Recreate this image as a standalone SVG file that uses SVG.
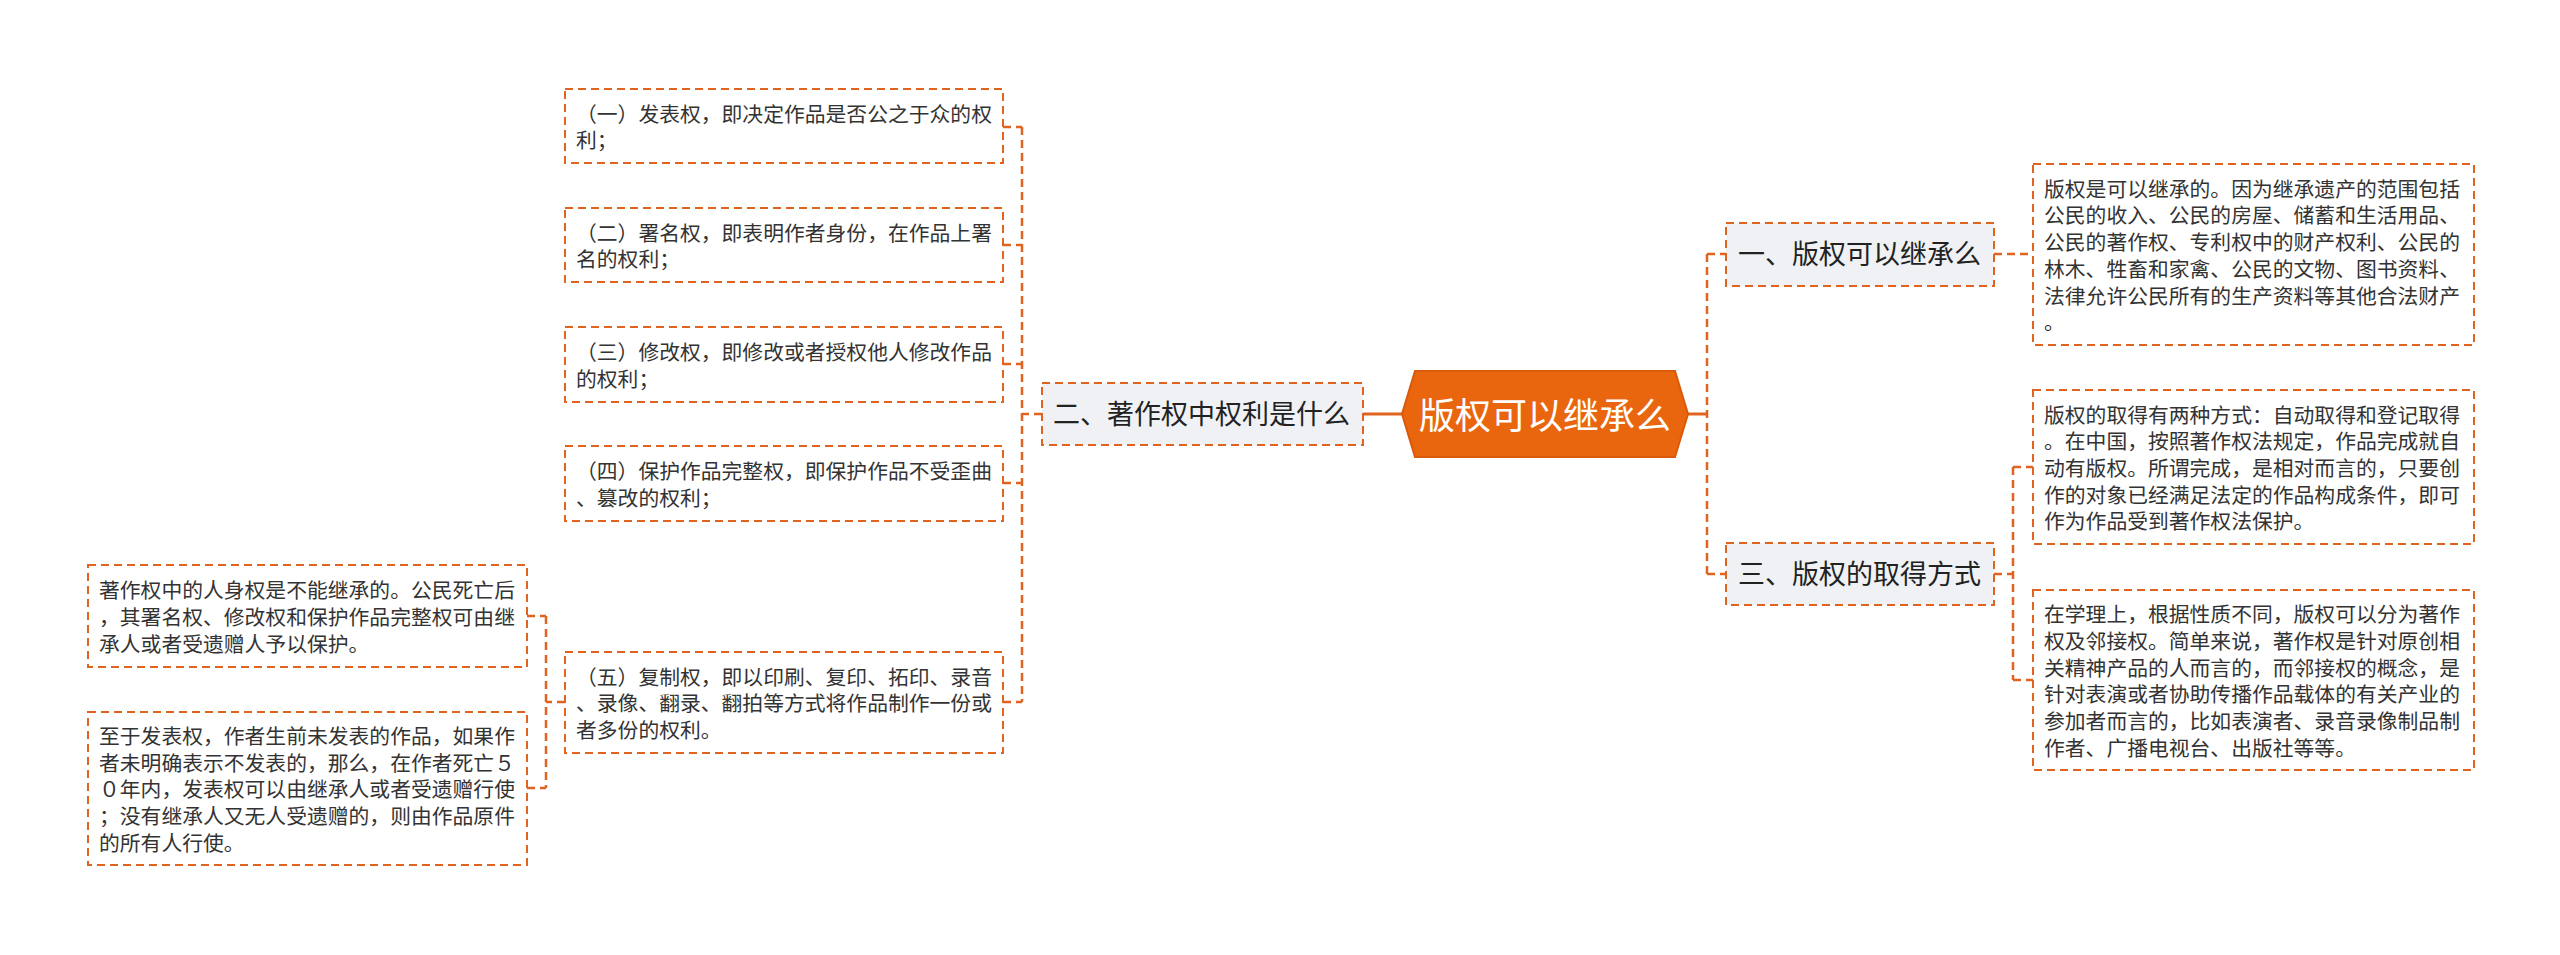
<svg xmlns="http://www.w3.org/2000/svg" width="2560" height="955" viewBox="0 0 2560 955">
<style>
.bg{fill:#ffffff}
.box{fill:#ffffff;stroke:#e0641f;stroke-width:2;stroke-dasharray:8 5}
.topic{fill:#eff1f4;stroke:#e0641f;stroke-width:2;stroke-dasharray:8 5}
.conn{fill:none;stroke:#e0641f;stroke-width:2.5;stroke-dasharray:8 5}
.solid{fill:none;stroke:#e0641f;stroke-width:3}
.t{font-family:"Noto Sans CJK SC","Noto Sans",sans-serif;font-size:20.8px;fill:#333333}
.tt{font-family:"Noto Sans CJK SC","Noto Sans",sans-serif;font-size:27px;fill:#222222}
.ct{font-family:"Noto Sans CJK SC","Noto Sans",sans-serif;font-size:36px;fill:#ffffff}
</style>
<rect class="bg" x="0" y="0" width="2560" height="955"/>
<g id="connectors">
<path class="solid" d="M1402 414 H1363"/>
<path class="conn" d="M1042 414 H1022 M1022 127 V702 M1003 127 H1022 M1003 245 H1022 M1003 364 H1022 M1003 483 H1022 M1003 702 H1022"/>
<path class="conn" d="M565 702 H546 M546 616 V788 M527 616 H546 M527 788 H546"/>
<path class="solid" d="M1688 414 H1707"/>
<path class="conn" d="M1707 254 V574 M1707 254 H1726 M1707 574 H1726"/>
<path class="conn" d="M1994 254 H2033"/>
<path class="conn" d="M1994 574 H2013 M2013 467 V680 M2013 467 H2033 M2013 680 H2033"/>
</g>
<g id="center">
<polygon points="1402,414 1415,371 1675,371 1688,414 1675,457 1415,457" fill="#e9660f" stroke="#d85a0a" stroke-width="2"/>
<text class="ct" x="1545" y="429" text-anchor="middle">版权可以继承么</text>
</g>
<g id="topic2">
<rect class="topic" x="1042" y="383" width="321" height="62"/>
<text class="tt" x="1053" y="424">二、著作权中权利是什么</text>
</g>
<g id="topic1">
<rect class="topic" x="1726" y="223" width="268" height="63"/>
<text class="tt" x="1738" y="264">一、版权可以继承么</text>
</g>
<g id="topic3">
<rect class="topic" x="1726" y="543" width="268" height="62"/>
<text class="tt" x="1738" y="584">三、版权的取得方式</text>
</g>
<g id="item1">
<rect class="box" x="565" y="89" width="438" height="74"/>
<text class="t"><tspan x="576" y="121.5">（一）发表权，即决定作品是否公之于众的权</tspan><tspan x="576" y="148.2">利；</tspan></text>
</g>
<g id="item2">
<rect class="box" x="565" y="208" width="438" height="74"/>
<text class="t"><tspan x="576" y="240.5">（二）署名权，即表明作者身份，在作品上署</tspan><tspan x="576" y="267.2">名的权利；</tspan></text>
</g>
<g id="item3">
<rect class="box" x="565" y="327" width="438" height="75"/>
<text class="t"><tspan x="576" y="360">（三）修改权，即修改或者授权他人修改作品</tspan><tspan x="576" y="386.7">的权利；</tspan></text>
</g>
<g id="item4">
<rect class="box" x="565" y="446" width="438" height="75"/>
<text class="t"><tspan x="576" y="479">（四）保护作品完整权，即保护作品不受歪曲</tspan><tspan x="576" y="505.7">、篡改的权利；</tspan></text>
</g>
<g id="item5">
<rect class="box" x="565" y="652" width="438" height="101"/>
<text class="t"><tspan x="576" y="684.7">（五）复制权，即以印刷、复印、拓印、录音</tspan><tspan x="576" y="711.4">、录像、翻录、翻拍等方式将作品制作一份或</tspan><tspan x="576" y="738.1">者多份的权利。</tspan></text>
</g>
<g id="item5a">
<rect class="box" x="88" y="565" width="439" height="102"/>
<text class="t"><tspan x="99" y="598.2">著作权中的人身权是不能继承的。公民死亡后</tspan><tspan x="99" y="624.9">，其署名权、修改权和保护作品完整权可由继</tspan><tspan x="99" y="651.6">承人或者受遗赠人予以保护。</tspan></text>
</g>
<g id="item5b">
<rect class="box" x="88" y="712" width="439" height="153"/>
<text class="t"><tspan x="99" y="744">至于发表权，作者生前未发表的作品，如果作</tspan><tspan x="99" y="770.7">者未明确表示不发表的，那么，在作者死亡５</tspan><tspan x="99" y="797.4">０年内，发表权可以由继承人或者受遗赠行使</tspan><tspan x="99" y="824.1">；没有继承人又无人受遗赠的，则由作品原件</tspan><tspan x="99" y="850.8">的所有人行使。</tspan></text>
</g>
<g id="detail1">
<rect class="box" x="2033" y="164" width="441" height="181"/>
<text class="t"><tspan x="2044" y="196.7">版权是可以继承的。因为继承遗产的范围包括</tspan><tspan x="2044" y="223.4">公民的收入、公民的房屋、储蓄和生活用品、</tspan><tspan x="2044" y="250">公民的著作权、专利权中的财产权利、公民的</tspan><tspan x="2044" y="276.8">林木、牲畜和家禽、公民的文物、图书资料、</tspan><tspan x="2044" y="303.5">法律允许公民所有的生产资料等其他合法财产</tspan><tspan x="2044" y="330.2">。</tspan></text>
</g>
<g id="detail3a">
<rect class="box" x="2033" y="390" width="441" height="154"/>
<text class="t"><tspan x="2044" y="422.5">版权的取得有两种方式：自动取得和登记取得</tspan><tspan x="2044" y="449.2">。在中国，按照著作权法规定，作品完成就自</tspan><tspan x="2044" y="475.9">动有版权。所谓完成，是相对而言的，只要创</tspan><tspan x="2044" y="502.6">作的对象已经满足法定的作品构成条件，即可</tspan><tspan x="2044" y="529.3">作为作品受到著作权法保护。</tspan></text>
</g>
<g id="detail3b">
<rect class="box" x="2033" y="590" width="441" height="180"/>
<text class="t"><tspan x="2044" y="622.2">在学理上，根据性质不同，版权可以分为著作</tspan><tspan x="2044" y="648.9">权及邻接权。简单来说，著作权是针对原创相</tspan><tspan x="2044" y="675.6">关精神产品的人而言的，而邻接权的概念，是</tspan><tspan x="2044" y="702.3">针对表演或者协助传播作品载体的有关产业的</tspan><tspan x="2044" y="729">参加者而言的，比如表演者、录音录像制品制</tspan><tspan x="2044" y="755.7">作者、广播电视台、出版社等等。</tspan></text>
</g>
</svg>
